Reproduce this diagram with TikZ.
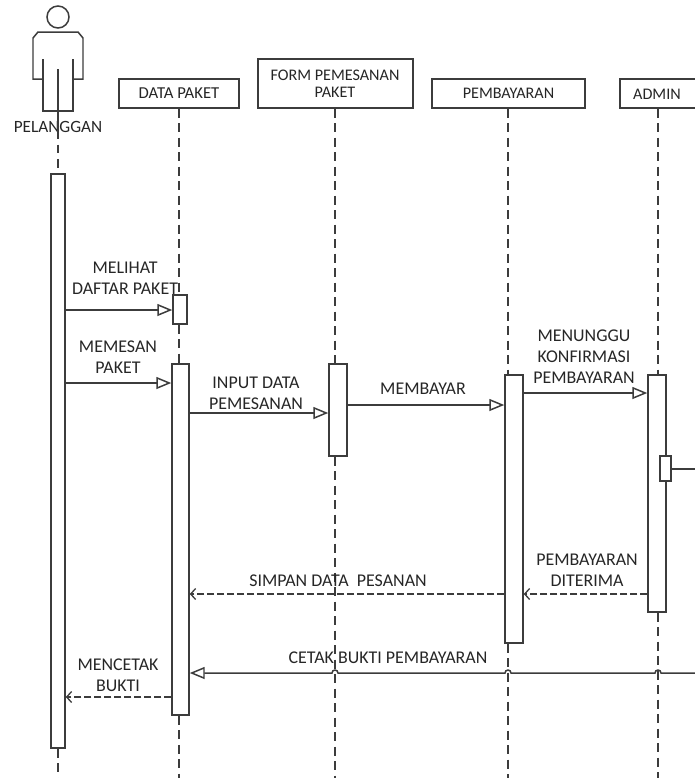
\documentclass[tikz,border=0pt]{standalone}
\usepackage{fontspec}
\setmainfont{Carlito}
\usetikzlibrary{arrows.meta, fit}
\definecolor{garis}{RGB}{60, 60, 60}

\begin{document}
\begin{tikzpicture}[x=0.02cm, y=-0.02cm, line width=0.85pt, draw=garis,
    every node/.style={font=\fontsize{10.2}{12}\selectfont, text=black!85, align=center},
    judul/.style={font=\fontsize{9.2}{9.8}\selectfont},
    kotak/.style={draw=garis, fill=white, inner sep=0pt},
    batang/.style={draw=garis, fill=white, inner sep=0pt},
    garishidup/.style={draw=garis, line width=0.75pt, dash pattern=on 0.18cm off 0.11cm},
    pesan/.style={draw=garis, -{Triangle[open, length=0.3cm, width=0.24cm]}},
    balasan/.style={draw=garis, line width=0.75pt, dash pattern=on 0.14cm off 0.06cm, -{Straight Barb[length=0.1cm, width=0.22cm]}}]
    \useasboundingbox (0, 0) rectangle (695, 778);

    % pelanggan
    \node[circle, draw=garis, minimum size=0.44cm, inner sep=0pt] (kepala) at (58, 17) {};
    \draw (43, 59) -- (43, 111) -- (73, 111) -- (73, 59);
    \draw (43, 79) -- (33, 79) -- (33, 38) -- (38, 32) -- (78, 32) -- (83, 38) -- (83, 79) -- (73, 79);
    \node[font=\fontsize{9.8}{12}\selectfont] (namaPelanggan) at (58, 127) {PELANGGAN};

    % kepala garis hidup
    \node[kotak, fit={(119, 79) (239, 108)}] (dataPaket) {};
    \node[judul, font=\fontsize{9.5}{10}\selectfont] at (dataPaket.center) {DATA PAKET};
    \node[kotak, fit={(258, 59) (413, 108)}] (formPesan) {};
    \node[judul] at (335, 83.5) {FORM PEMESANAN\\PAKET};
    \node[kotak, fit={(432, 79) (585, 108)}] (pembayaran) {};
    \node[judul] at (pembayaran.center) {PEMBAYARAN};
    \node[kotak, fit={(620, 79) (710, 108)}] (admin) {};
    \node[judul] at (657, 94) {ADMIN};

    % batang aktivasi
    \node[batang, fit={(51, 174) (65, 748)}] (barPelanggan) {};
    \node[batang, fit={(173, 295) (187, 324)}] (barDaftar) {};
    \node[batang, fit={(172, 364) (189, 715)}] (barData) {};
    \node[batang, fit={(329, 364) (347, 456)}] (barForm) {};
    \node[batang, fit={(505, 375) (523, 643)}] (barBayar) {};
    \node[batang, fit={(648, 375) (666, 612)}] (barAdmin) {};
    \node[batang, fit={(660, 456) (671, 481)}] (barCetak) {};

    \coordinate (bawahPelanggan) at (58, 778);
    \coordinate (bawahData) at (179, 778);
    \coordinate (bawahForm) at (335, 778);
    \coordinate (bawahBayar) at (508, 778);
    \coordinate (bawahAdmin) at (658, 778);
    \coordinate (tepiKanan) at (695, 673);
    \coordinate (tepiCetak) at (695, 469);
    \coordinate (leher) at (58, 69);
    \coordinate (akhirLeher) at (58, 130);

    % garis hidup
    \draw (leher) -- (akhirLeher);
    \draw[garishidup] (akhirLeher) -- (barPelanggan.north);
    \draw[garishidup] (barPelanggan.south) -- (bawahPelanggan);
    \draw[garishidup] (dataPaket.south -| bawahData) -- (barDaftar.north -| bawahData);
    \draw[garishidup] (barDaftar.south -| bawahData) -- (barData.north -| bawahData);
    \draw[garishidup] (barData.south -| bawahData) -- (bawahData);
    \draw[garishidup] (formPesan.south -| bawahForm) -- (barForm.north -| bawahForm);
    \draw[garishidup] (barForm.south -| bawahForm) -- (bawahForm);
    \draw[garishidup] (pembayaran.south -| bawahBayar) -- (barBayar.north -| bawahBayar);
    \draw[garishidup] (barBayar.south -| bawahBayar) -- (bawahBayar);
    \draw[garishidup] (admin.south -| bawahAdmin) -- (barAdmin.north -| bawahAdmin);
    \draw[garishidup] (barAdmin.south -| bawahAdmin) -- (bawahAdmin);

    % pesan
    \draw[pesan] (barPelanggan.east |- 0, 310) -- (barDaftar.west |- 0, 310);
    \draw[pesan] (barPelanggan.east |- 0, 383) -- (barData.west |- 0, 383);
    \draw[pesan] (barData.east |- 0, 413) -- (barForm.west |- 0, 413);
    \draw[pesan] (barForm.east |- 0, 405) -- (barBayar.west |- 0, 405);
    \draw[pesan] (barBayar.east |- 0, 393) -- (barAdmin.west |- 0, 393);
    \draw (barCetak.east |- tepiCetak) -- (tepiCetak);
    \draw[balasan] (barAdmin.west |- 0, 594) -- (barBayar.east |- 0, 594);
    \draw[balasan] (barBayar.west |- 0, 594) -- (barData.east |- 0, 594);
    \draw[balasan] (barData.west |- 0, 697) -- (barPelanggan.east |- 0, 697);
    \draw[pesan] (tepiKanan) -- (661, 673) arc (0:-180:3) -- (511, 673) arc (0:-180:3)
        -- (338, 673) arc (0:-180:3) -- (barData.east |- 0, 673);

    % label
    \node at (125, 278) {MELIHAT\\DAFTAR PAKET};
    \node at (118, 357) {MEMESAN\\PAKET};
    \node at (256, 393) {INPUT DATA\\PEMESANAN};
    \node at (423, 389) {MEMBAYAR};
    \node at (584, 357) {MENUNGGU\\KONFIRMASI\\PEMBAYARAN};
    \node at (587, 570) {PEMBAYARAN\\DITERIMA};
    \node at (338, 581) {SIMPAN DATA\ \ PESANAN};
    \node at (388, 658) {CETAK BUKTI PEMBAYARAN};
    \node at (118, 675) {MENCETAK\\BUKTI};
\end{tikzpicture}
\end{document}
